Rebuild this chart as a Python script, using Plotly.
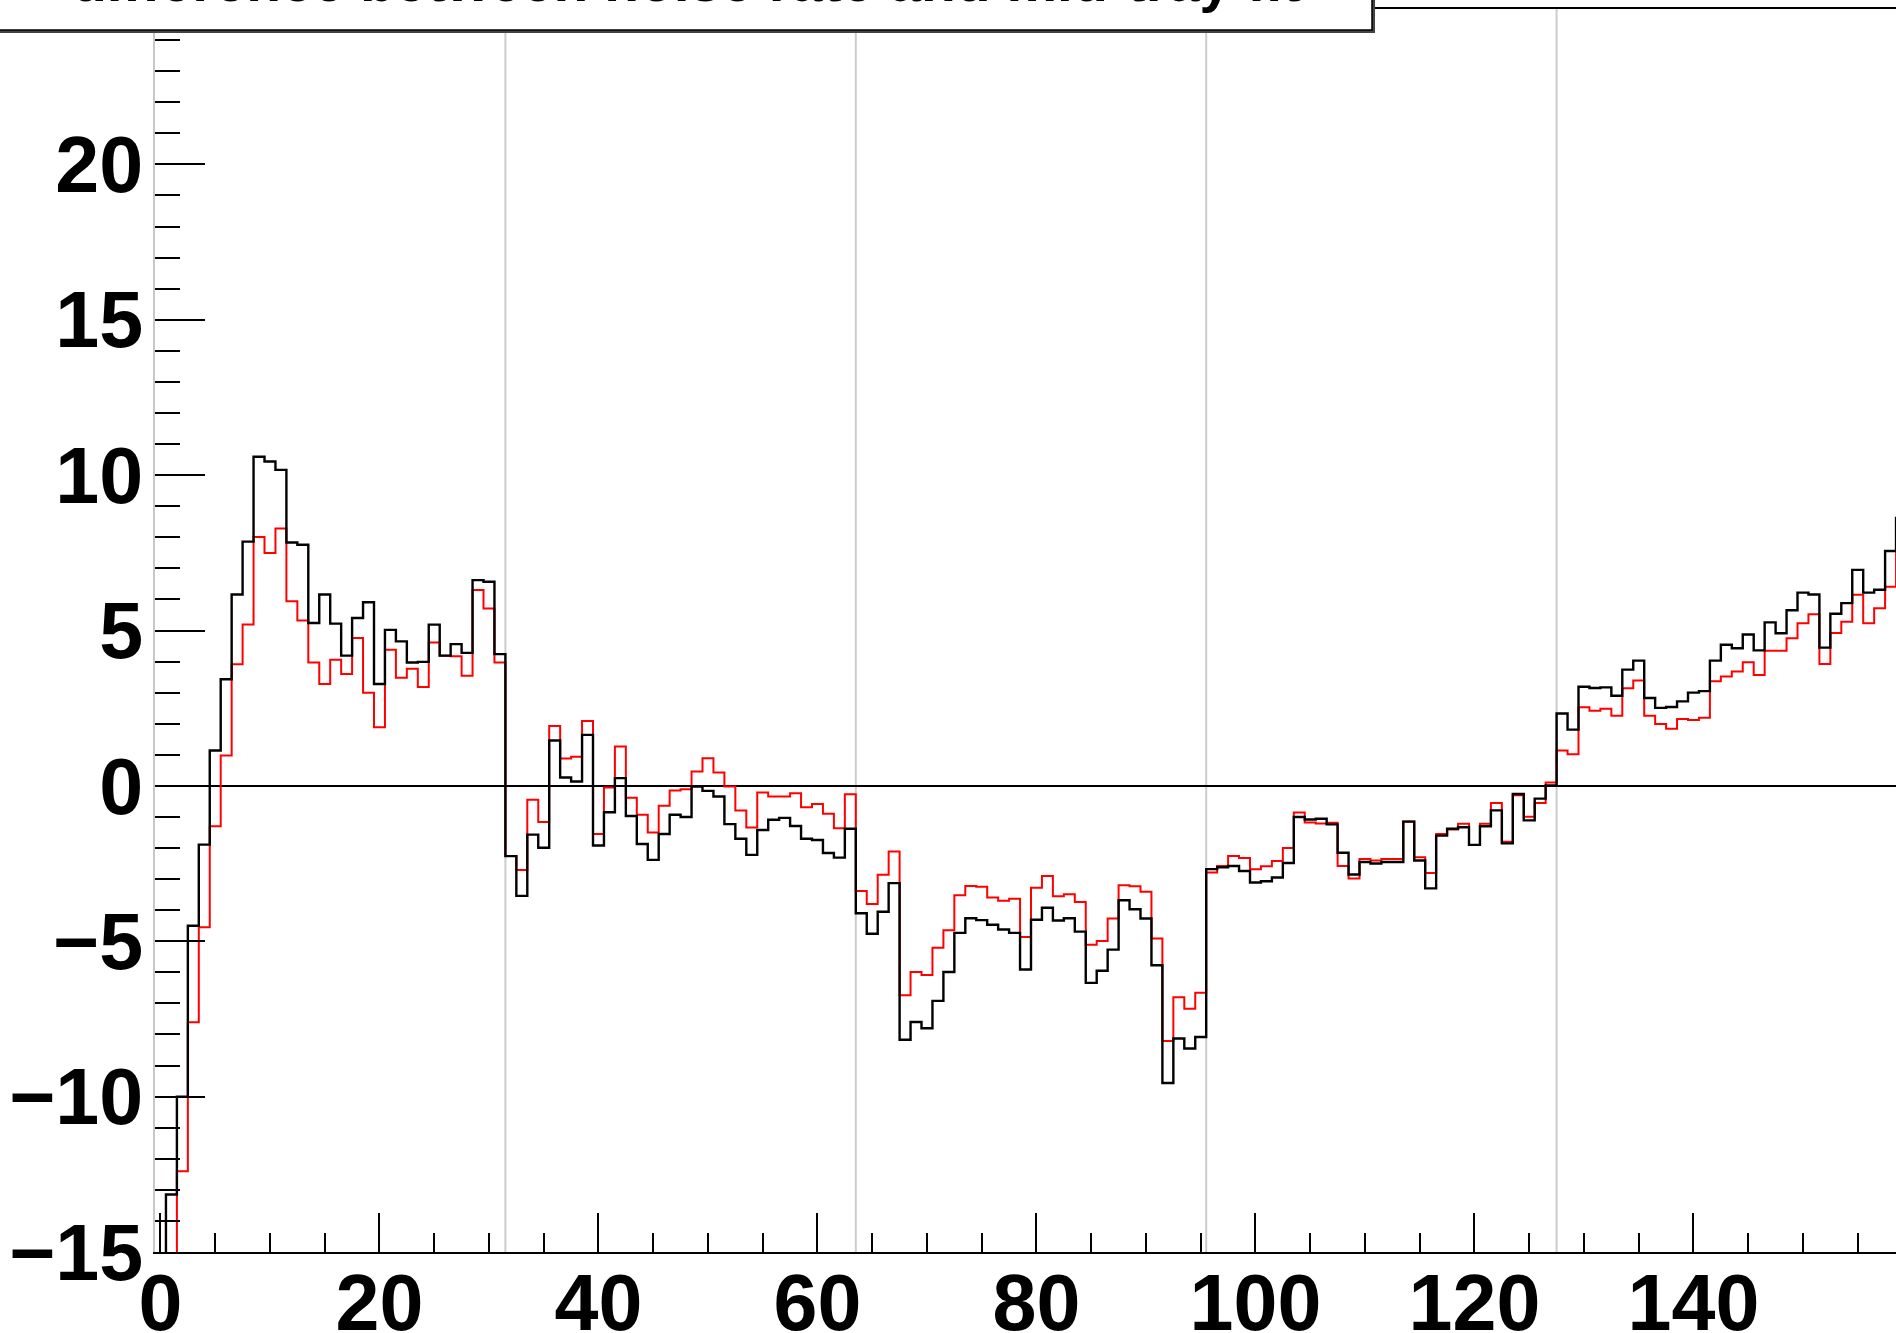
import numpy as np
import plotly.graph_objects as go

# ---------------- data ----------------
channels = list(range(160))  # bin centres 0..159

black_vals = [
    -17.0, -13.15, -10.0, -4.5, -1.89, 1.14, 3.43, 6.16, 7.86, 10.59,
    10.44, 10.17, 7.83, 7.76, 5.24, 6.16, 5.22, 4.19, 5.40, 5.91,
    3.28, 5.02, 4.65, 3.97, 3.99, 5.19, 4.19, 4.56, 4.28, 6.62,
    6.57, 4.24, -2.26, -3.54, -1.57, -1.99, 1.46, 0.27, 0.14, 1.64,
    -1.92, -0.85, 0.25, -0.97, -1.87, -2.38, -1.55, -0.93, -1.00, -0.02,
    -0.16, -0.34, -1.23, -1.70, -2.22, -1.42, -1.09, -1.03, -1.29, -1.70,
    -1.74, -2.16, -2.31, -1.38, -4.10, -4.76, -4.05, -3.13, -8.17, -7.60,
    -7.80, -6.92, -5.99, -4.73, -4.26, -4.32, -4.47, -4.62, -4.73, -5.91,
    -4.31, -3.92, -4.33, -4.26, -4.69, -6.34, -5.95, -5.27, -3.68, -3.97,
    -4.27, -5.77, -9.56, -8.13, -8.45, -8.08, -2.68, -2.62, -2.58, -2.74,
    -3.11, -3.07, -2.95, -2.48, -1.00, -1.08, -1.06, -1.24, -2.15, -2.85,
    -2.45, -2.50, -2.45, -2.45, -1.15, -2.40, -3.30, -1.60, -1.38, -1.33,
    -1.90, -1.30, -0.79, -1.85, -0.26, -1.11, -0.41, 0.01, 2.33, 1.81,
    3.19, 3.15, 3.17, 2.90, 3.74, 4.03, 2.83, 2.51, 2.54, 2.72,
    3.00, 3.05, 4.03, 4.54, 4.43, 4.87, 4.36, 5.26, 4.91, 5.65,
    6.22, 6.16, 4.45, 5.54, 5.88, 6.95, 6.22, 6.31, 7.56, 8.62,
]

red_vals = [
    -17.0, -17.0, -12.4, -7.61, -4.55, -1.30, 0.98, 3.91, 5.19, 8.01,
    7.49, 8.28, 5.94, 5.32, 3.97, 3.28, 4.06, 3.60, 4.76, 3.00,
    1.89, 4.38, 3.48, 3.77, 3.18, 4.61, 4.19, 4.17, 3.54, 6.30,
    5.71, 3.97, -2.26, -2.71, -0.45, -1.16, 1.93, 0.88, 0.94, 2.09,
    -1.55, -0.05, 1.27, -0.38, -0.93, -1.50, -0.64, -0.15, -0.11, 0.46,
    0.89, 0.43, -0.02, -0.79, -1.34, -0.21, -0.34, -0.34, -0.24, -0.69,
    -0.58, -0.90, -1.36, -0.27, -3.38, -3.80, -2.86, -2.11, -6.74, -5.99,
    -6.09, -5.21, -4.65, -3.52, -3.22, -3.25, -3.59, -3.70, -3.63, -4.86,
    -3.28, -2.90, -3.55, -3.49, -3.74, -5.11, -4.99, -4.27, -3.20, -3.23,
    -3.41, -4.91, -8.21, -6.80, -7.17, -6.66, -2.79, -2.58, -2.26, -2.32,
    -2.68, -2.59, -2.42, -2.00, -0.86, -1.18, -1.21, -1.19, -2.58, -2.98,
    -2.35, -2.40, -2.35, -2.35, -1.15, -2.30, -2.80, -1.55, -1.40, -1.22,
    -1.90, -1.22, -0.55, -1.80, -0.30, -0.99, -0.55, 0.11, 1.14, 1.02,
    2.53, 2.42, 2.48, 2.26, 3.14, 3.39, 2.26, 1.99, 1.84, 2.15,
    2.12, 2.19, 3.37, 3.52, 3.68, 3.98, 3.57, 4.35, 4.35, 4.75,
    5.23, 5.52, 3.92, 4.92, 5.28, 6.15, 5.23, 5.72, 6.41, 7.63,
]

tray_boundaries = [31.5, 63.5, 95.5, 127.5]
x_tick_vals = [0, 20, 40, 60, 80, 100, 120, 140]
y_tick_vals = [-15, -10, -5, 0, 5, 10, 15, 20, 25]
y_tick_text = ["\u221215", "\u221210", "\u22125", "0", "5", "10", "15", "20", "25"]
title_text = "difference between noise rate and mid-tray fit"

# ---------------- figure ----------------
W, H = 1896, 1333
ML, MR, MT, MB = 155, 0, 9, 81
plot_w = W - ML - MR
plot_h = H - MT - MB


def step_xy(centres, vals):
    c = np.asarray(centres, dtype=float)
    v = np.asarray(vals, dtype=float)
    edges = np.append(c - 0.5, c[-1] + 0.5)
    return edges, np.append(v, v[-1])


fig = go.Figure()

for vals, col, lw in [(red_vals, "#ff0000", 2.0), (black_vals, "#000000", 2.4)]:
    xs, ys = step_xy(channels, vals)
    fig.add_trace(go.Scatter(x=xs, y=ys, mode="lines", line=dict(color=col, width=lw, shape="hv"),
                             showlegend=False, hoverinfo="skip"))

for xb in tray_boundaries:
    fig.add_shape(type="line", xref="x", yref="y", x0=xb, x1=xb, y0=-15, y1=25,
                  line=dict(color="#cccccc", width=2), layer="below")


def px_to_paper_x(px):
    return (px - ML) / plot_w


def px_to_paper_y(py):
    return 1 - (py - MT) / plot_h


# title box shadow + box
fig.add_shape(type="rect", xref="paper", yref="paper",
              x0=px_to_paper_x(-10), x1=px_to_paper_x(1375),
              y0=px_to_paper_y(33), y1=px_to_paper_y(-40),
              line=dict(width=0), fillcolor="#444444", layer="above")
fig.add_shape(type="rect", xref="paper", yref="paper",
              x0=px_to_paper_x(-10), x1=px_to_paper_x(1372),
              y0=px_to_paper_y(30), y1=px_to_paper_y(-40),
              line=dict(width=1.5, color="black"), fillcolor="white", layer="above")

fig.add_annotation(text=title_text, xref="paper", yref="paper",
                   x=px_to_paper_x(70), y=px_to_paper_y(15.5), xanchor="left", yanchor="bottom",
                   showarrow=False,
                   font=dict(family="Liberation Sans", size=57, color="black", weight="bold"))

tickfont = dict(family="Liberation Sans", size=79, color="black", weight="bold")

fig.update_xaxes(range=[-0.5, -0.5 + plot_w / 10.95], tickmode="array", tickvals=x_tick_vals,
                 ticks="inside", ticklen=39, tickwidth=2, tickcolor="black",
                 minor=dict(dtick=5, tick0=0, ticks="inside", ticklen=19, tickwidth=2, tickcolor="black"),
                 showline=True, linecolor="black", linewidth=2, mirror=True, automargin=False,
                 showgrid=False, zeroline=False, tickfont=tickfont, ticklabelstandoff=-19)

fig.update_yaxes(range=[-15, 25], tickmode="array", tickvals=y_tick_vals, ticktext=y_tick_text,
                 ticks="inside", ticklen=50, tickwidth=2, tickcolor="black",
                 minor=dict(dtick=1, tick0=0, ticks="inside", ticklen=25, tickwidth=2, tickcolor="black"),
                 showline=True, linecolor="#c8c8c8", linewidth=2, mirror=False, automargin=False,
                 showgrid=False, zeroline=True, zerolinecolor="black", zerolinewidth=1.6,
                 tickfont=tickfont, ticklabelstandoff=-6)

fig.update_layout(width=W, height=H, margin=dict(l=ML, r=MR, t=MT, b=MB, pad=0, autoexpand=False),
                  paper_bgcolor="white", plot_bgcolor="white", showlegend=False)

page_fix = ("document.body.style.margin='0';document.body.style.padding='0';"
            "document.documentElement.style.overflow='hidden';document.body.style.overflow='hidden';")

fig.write_html("out.html", post_script=page_fix, config={"displayModeBar": False})
